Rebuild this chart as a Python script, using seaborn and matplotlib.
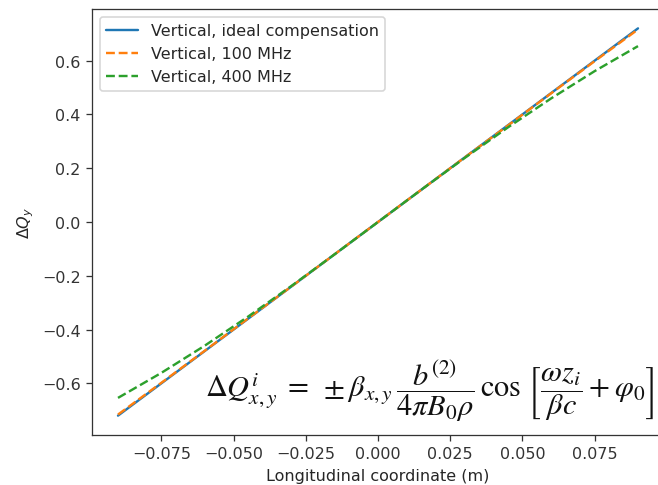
import matplotlib
matplotlib.use("Agg")
import matplotlib.pyplot as plt
import seaborn as sns
import pandas as pd

# Longitudinal coordinate z (m)
z = [-0.090, -0.075, -0.060, -0.045, -0.030, -0.015, 0.000,
     0.015, 0.030, 0.045, 0.060, 0.075, 0.090]

# Vertical tune shift for each compensation scheme
dq_ideal = [-0.720, -0.600, -0.480, -0.360, -0.240, -0.120, 0.000,
            0.120, 0.240, 0.360, 0.480, 0.600, 0.720]
dq_100mhz = [-0.716, -0.598, -0.479, -0.359, -0.240, -0.120, 0.000,
             0.120, 0.240, 0.359, 0.479, 0.598, 0.716]
dq_400mhz = [-0.654, -0.561, -0.460, -0.352, -0.238, -0.120, 0.000,
             0.120, 0.238, 0.352, 0.460, 0.561, 0.654]

labels = ["Vertical, ideal compensation", "Vertical, 100 MHz", "Vertical, 400 MHz"]

df = pd.DataFrame({"z": z, "ideal": dq_ideal, "f100": dq_100mhz, "f400": dq_400mhz})

sns.set_style("ticks")
plt.rcParams["font.family"] = ["DejaVu Sans"]
plt.rcParams["mathtext.fontset"] = "dejavusans"

DPI = 115
W, H = 658, 486
fig = plt.figure(figsize=(W / DPI, H / DPI), dpi=DPI)
ax = fig.add_axes([92 / W, 1 - 436 / H, (664 - 92) / W, (436 - 10) / H])

palette = sns.color_palette("tab10")
sns.lineplot(data=df, x="z", y="ideal", ax=ax, color=palette[0], label=labels[0], linewidth=1.5)
sns.lineplot(data=df, x="z", y="f100", ax=ax, color=palette[1], label=labels[1],
             linestyle="--", linewidth=1.5)
sns.lineplot(data=df, x="z", y="f400", ax=ax, color=palette[2], label=labels[2],
             linestyle="--", linewidth=1.5)

ax.set_xlabel("Longitudinal coordinate (m)", fontsize=10)
ax.set_ylabel(r"$\Delta Q_y$", fontsize=10)
ax.set_xticks([-0.075, -0.050, -0.025, 0.000, 0.025, 0.050, 0.075])
ax.set_yticks([-0.6, -0.4, -0.2, 0.0, 0.2, 0.4, 0.6])
ax.tick_params(labelsize=10, color="#333333", labelcolor="#333333")
for s in ax.spines.values():
    s.set_color("#333333")
ax.spines["right"].set_visible(False)
ax.legend(loc="upper left", fontsize=10, frameon=True)

fig.text(655 / W, 1 - 391 / H,
         r"$\Delta Q^{i}_{x,y} \;=\; \pm\beta_{x,y}\,\dfrac{b^{(2)}}{4\pi B_0\rho}\,\cos\,\left[\dfrac{\omega z_i}{\beta c} + \varphi_0\right]$",
         ha="right", va="center", fontsize=19, math_fontfamily="stix", color="#111111")

fig.savefig("out.png", dpi=DPI)
